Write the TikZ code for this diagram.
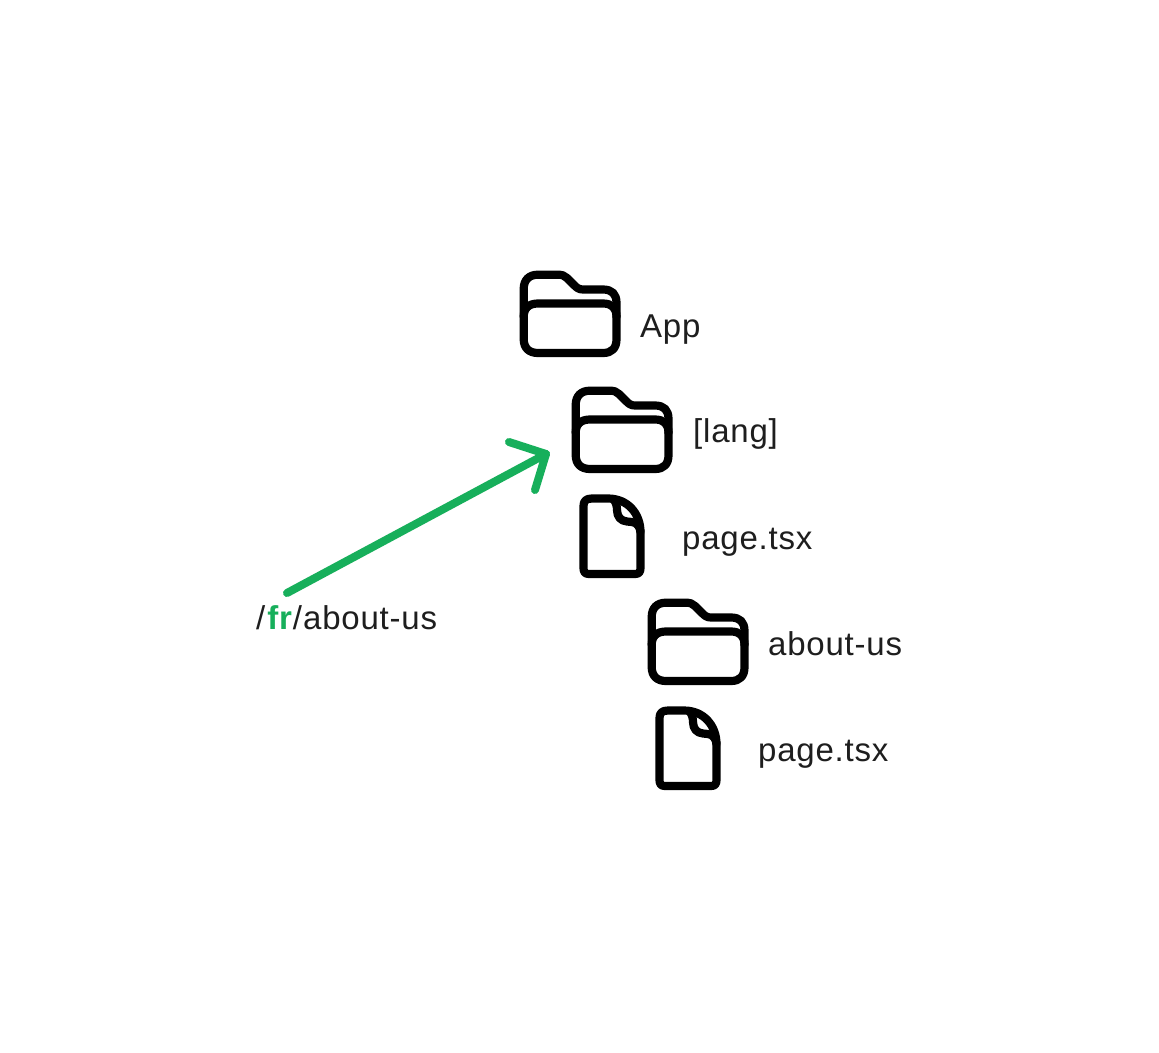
\documentclass[tikz,border=0pt]{standalone}
\usepackage{fontspec}
\setmainfont[LetterSpace=2.4]{Liberation Sans}
\definecolor{grn}{HTML}{17AF5B}
\definecolor{ink}{HTML}{1E1E1E}
\tikzset{
  x=1pt,y=-1pt,
  iconline/.style={line width=8.2pt,black,line join=round,line cap=round},
  lbl/.style={inner sep=0pt,text=ink,font=\fontsize{33}{38}\selectfont,anchor=base west},
  folder/.pic={
    \draw[iconline] (18,3.7) .. controls (9,3.7) and (3.7,9) .. (3.7,18) -- (3.7,68)
      .. controls (3.7,77) and (9,82) .. (18,82) -- (83,82)
      .. controls (92,82) and (96.5,77) .. (96.5,68) -- (96.5,32)
      .. controls (96.5,23) and (92,18.5) .. (83,18.5) -- (63,18.5)
      .. controls (59,18.5) and (57,17) .. (54,14) -- (47,7)
      .. controls (44.5,4.5) and (42,3.7) .. (38,3.7) -- cycle;
    \draw[iconline] (3.7,46) .. controls (3.7,37) and (9,32.5) .. (18,32.5) -- (83,32.5)
      .. controls (92,32.5) and (96.5,37) .. (96.5,46);
  },
  docfile/.pic={
    \draw[iconline] (12,4.5) -- (28,4.5) .. controls (48,4.5) and (60.5,20) .. (60.5,38) -- (60.5,74)
      .. controls (60.5,78) and (59,80) .. (55,80) -- (9,80)
      .. controls (5,80) and (3.5,78) .. (3.5,74) -- (3.5,12)
      .. controls (3.5,7) and (6,4.5) .. (12,4.5) -- cycle;
    \draw[iconline] (33,5) .. controls (36,8) and (37,12) .. (37,16)
      .. controls (37,23) and (41,27) .. (47,27.5) -- (52,28)
      .. controls (57,28.5) and (60,33) .. (60.5,38);
  }
}
\begin{document}
\begin{tikzpicture}
\useasboundingbox (0,0) rectangle (1159,1052);
\fill[white] (0,0) rectangle (1159,1052);
\pic at (520,271) {folder};
\pic at (572,387) {folder};
\pic at (648,599) {folder};
\pic at (580,494) {docfile};
\pic at (656,706) {docfile};
\node[lbl] (app) at (640,337) {App};
\node[lbl] (lang) at (693,442) {[lang]};
\node[lbl] (page1) at (682,549) {page.tsx};
\node[lbl] (about) at (768,655) {about-us};
\node[lbl] (page2) at (758,761) {page.tsx};
\node[lbl] (route) at (256,629) {/\hspace{2pt}{\textcolor{grn}{\bfseries fr}}\hspace{1pt}/\hspace{1pt}about-us};
\coordinate (tail) at (287,593);
\coordinate (tip) at (546,454);
\coordinate (h1) at (509,442);
\coordinate (h2) at (535,490);
\draw[grn,line width=8pt,line cap=round,line join=round] (tail) -- (tip);
\draw[grn,line width=8pt,line cap=round,line join=round] (h1) -- (tip) -- (h2);
\end{tikzpicture}
\end{document}
